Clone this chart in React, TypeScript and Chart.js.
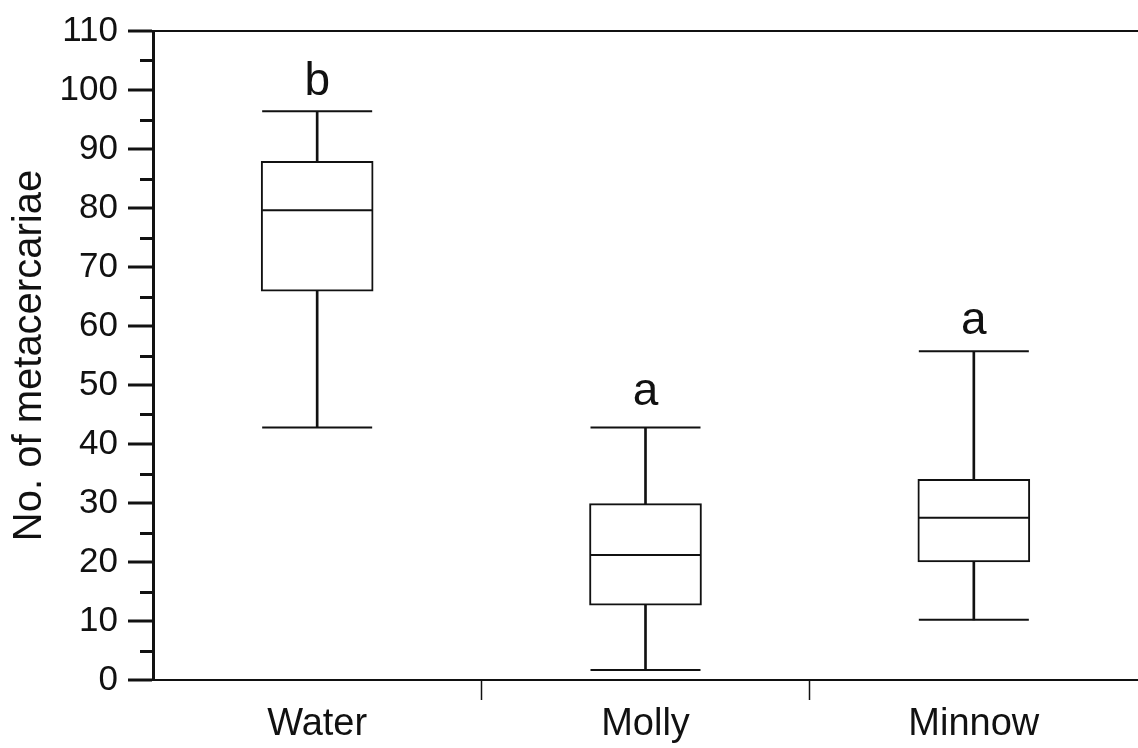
import React, { useEffect, useRef } from "react";
import { Chart, registerables } from "chart.js";

Chart.register(...registerables);

const categories = ["Water", "Molly", "Minnow"];
const whiskerMin = [42.8, 1.7, 10.2];
const q1Values = [65.9, 12.7, 20.0];
const medianValues = [79.6, 21.2, 27.5];
const q3Values = [87.9, 29.9, 34.0];
const whiskerMax = [96.4, 42.8, 55.7];
const groupLetters = ["b", "a", "a"];
const letterBaselines = [99.2, 46.6, 58.6];
const minorTickValues = [5, 15, 25, 35, 45, 55, 65, 75, 85, 95, 105];
const yMin = 0;
const yMax = 110;
const yStep = 10;
const yTitle = "No. of metacercariae";

const INK = "#111111";
const FONT = "'Liberation Sans', Arial, sans-serif";

export default function App() {
  const ref = useRef<HTMLCanvasElement | null>(null);

  useEffect(() => {
    const canvas = ref.current;
    if (!canvas) return;

    const annotations = {
      id: "boxAnnotations",
      afterDraw(chart: any) {
        const ctx = chart.ctx;
        const x = chart.scales.x;
        const y = chart.scales.y;
        ctx.save();
        // minor ticks on y axis
        ctx.strokeStyle = INK;
        ctx.lineWidth = 3;
        minorTickValues.forEach((v) => {
          const py = Math.round(y.getPixelForValue(v)) + 0.5;
          ctx.beginPath();
          ctx.moveTo(y.right - 13, py);
          ctx.lineTo(y.right, py);
          ctx.stroke();
        });
        // group letters
        ctx.fillStyle = INK;
        ctx.font = "46px " + FONT;
        ctx.textAlign = "center";
        ctx.textBaseline = "alphabetic";
        groupLetters.forEach((t, i) => {
          ctx.fillText(t, x.getPixelForValue(i), y.getPixelForValue(letterBaselines[i]));
        });
        ctx.restore();
      },
    };

    const pointLine = (label: string, data: number[]) =>
      ({
        type: "line",
        label,
        data,
        showLine: false,
        pointStyle: "line",
        pointRadius: 55,
        pointHoverRadius: 55,
        pointBorderWidth: 2,
        pointBorderColor: INK,
        clip: false,
        order: 1,
      } as any);

    const chart = new Chart(canvas, {
      type: "bar",
      data: {
        labels: categories,
        datasets: [
          {
            type: "bar",
            label: "whisker",
            data: categories.map((_, i) => [whiskerMin[i], whiskerMax[i]]),
            backgroundColor: INK,
            borderWidth: 0,
            barThickness: 2,
            grouped: false,
            order: 5,
          } as any,
          {
            type: "bar",
            label: "box",
            data: categories.map((_, i) => [q1Values[i], q3Values[i]]),
            backgroundColor: "#ffffff",
            borderColor: INK,
            borderWidth: 2,
            borderSkipped: false,
            barThickness: 112,
            grouped: false,
            order: 4,
          } as any,
          pointLine("median", medianValues),
          pointLine("max", whiskerMax),
          pointLine("min", whiskerMin),
        ],
      },
      options: {
        responsive: false,
        animation: false,
        devicePixelRatio: 1,
        layout: { autoPadding: false, padding: { top: 23, right: 0, left: 0, bottom: 0 } },
        plugins: {
          legend: { display: false },
          tooltip: { enabled: false },
        },
        scales: {
          x: {
            offset: true,
            afterFit: (scale: any) => {
              scale.height = 68;
            },
            grid: {
              offset: true,
              drawOnChartArea: false,
              drawTicks: true,
              tickLength: 20,
              tickWidth: 1.5,
              tickColor: (ctx: any) =>
                ctx.type === "tick" && ctx.index > 0 ? INK : "rgba(0,0,0,0)",
            },
            border: { display: true, color: INK, width: 2 },
            ticks: {
              color: INK,
              padding: 2,
              font: { family: FONT, size: 38 },
            },
          },
          y: {
            min: yMin,
            max: yMax,
            afterFit: (scale: any) => {
              scale.width = 153;
            },
            grid: {
              drawOnChartArea: true,
              drawTicks: true,
              tickLength: 25,
              tickWidth: 3,
              tickColor: INK,
              color: (ctx: any) =>
                ctx.tick && ctx.tick.value === yMax ? INK : "rgba(0,0,0,0)",
              lineWidth: 2,
            },
            border: { display: true, color: INK, width: 3 },
            ticks: {
              stepSize: yStep,
              color: INK,
              padding: 10,
              font: { family: FONT, size: 35 },
            },
            title: {
              display: true,
              text: yTitle,
              color: INK,
              padding: { top: 6, bottom: 0 },
              font: { family: FONT, size: 40 },
            },
          },
        },
      },
      plugins: [annotations],
    });

    return () => chart.destroy();
  }, []);

  return (
    <div style={{ position: "absolute", left: 0, top: 0, width: 1138, height: 748, background: "#fff" }}>
      <canvas ref={ref} width={1138} height={748} />
    </div>
  );
}
